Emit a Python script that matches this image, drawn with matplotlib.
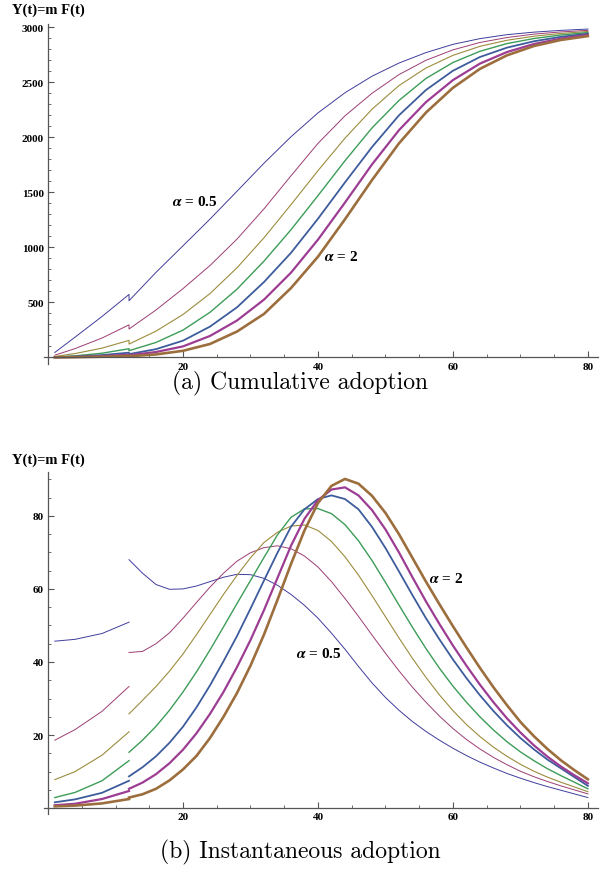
import matplotlib
matplotlib.use("Agg")
import matplotlib.pyplot as plt
from matplotlib.ticker import FixedLocator, MultipleLocator

plt.rcParams['font.family'] = 'Liberation Serif'
plt.rcParams['font.weight'] = 'bold'
plt.rcParams['mathtext.fontset'] = 'stix'

# valores de alpha y estilo de cada curva (colores por defecto de Mathematica)
alphas = ['0.5', '0.75', '1', '1.25', '1.5', '1.75', '2']
colores = ['#403d9c', '#9c3d72', '#9c8c3d', '#3d9c58', '#3d5c9c', '#9c3d93', '#9c6e3d']
grosores = [0.7, 0.7, 0.8, 1.0, 1.3, 1.6, 1.9]

# tiempos
t_pre = [1, 4, 8, 12]
t_cum = [12, 16, 20, 24, 28, 32, 36, 40, 44, 48, 52, 56, 60, 64, 68, 72, 76, 80]
t_ins = [12, 14, 16, 18, 20, 22, 24, 26, 28, 30, 32, 34, 36, 38, 40, 42, 44, 46,
         48, 50, 52, 54, 56, 58, 60, 62, 64, 66, 68, 70, 72, 74, 76, 78, 80]

# (a) adopcion acumulada Y(t) = m F(t)
cum_pre_050 = [45, 184, 372, 572]
cum_pre_075 = [20, 80, 176, 296]
cum_pre_100 = [8, 35, 84, 155]
cum_pre_125 = [3, 14, 38, 79]
cum_pre_150 = [1.5, 7.5, 21, 43]
cum_pre_175 = [0.8, 3.8, 11, 25]
cum_pre_200 = [0.5, 2.3, 6.3, 14]

cum_050 = [515, 773, 1014, 1257, 1510, 1765, 2005, 2222, 2405, 2555, 2675, 2770, 2845, 2897, 2933, 2956, 2972, 2984]
cum_075 = [258, 431, 625, 835, 1075, 1350, 1650, 1945, 2195, 2400, 2570, 2700, 2795, 2862, 2907, 2938, 2958, 2972]
cum_100 = [121, 239, 390, 580, 814, 1087, 1388, 1697, 1992, 2255, 2470, 2630, 2745, 2827, 2882, 2919, 2944, 2962]
cum_125 = [61, 136, 248, 410, 620, 875, 1160, 1470, 1787, 2085, 2335, 2535, 2680, 2782, 2852, 2898, 2930, 2952]
cum_150 = [30, 75, 152, 280, 455, 685, 950, 1260, 1590, 1911, 2200, 2430, 2605, 2730, 2815, 2873, 2913, 2942]
cum_175 = [20, 49, 100, 195, 335, 525, 770, 1070, 1407, 1753, 2065, 2320, 2520, 2670, 2775, 2848, 2897, 2932]
cum_200 = [11, 27, 60, 122, 235, 395, 630, 915, 1255, 1611, 1945, 2225, 2450, 2622, 2745, 2830, 2885, 2920]

# (b) adopcion instantanea
ins_pre_050 = [45.7, 46.2, 47.8, 50.9]
ins_pre_075 = [18.6, 21.5, 26.5, 33.3]
ins_pre_100 = [7.8, 10.0, 14.5, 20.9]
ins_pre_125 = [2.9, 4.3, 7.5, 13.0]
ins_pre_150 = [1.6, 2.4, 4.2, 7.5]
ins_pre_175 = [0.8, 1.2, 2.5, 4.7]
ins_pre_200 = [0.5, 0.7, 1.3, 2.5]

ins_050 = [68.0, 64.3, 61.2, 59.9, 60.0, 60.8, 62.0, 63.2, 64.0, 63.9,
           62.9, 61.0, 58.5, 55.5, 52.0, 47.9, 43.5, 38.8, 34.3, 30.3,
           26.8, 23.7, 21.0, 18.6, 16.4, 14.4, 12.6, 11.0, 9.5, 8.2,
           7.0, 5.9, 4.9, 3.9, 2.9]
ins_075 = [42.6, 42.9, 45.0, 48.0, 52.0, 56.3, 60.5, 64.3, 67.6, 69.9,
           71.3, 71.8, 71.0, 69.0, 66.0, 62.0, 57.4, 52.5, 47.4, 42.4,
           37.6, 33.1, 29.0, 25.2, 21.8, 18.8, 16.2, 13.9, 11.9, 10.1,
           8.6, 7.3, 6.1, 5.0, 3.9]
ins_100 = [25.8, 29.5, 33.3, 37.5, 42.2, 47.5, 53.0, 58.5, 63.7, 68.5,
           72.7, 75.5, 77.2, 77.5, 76.0, 73.0, 68.8, 63.8, 58.2, 52.4,
           46.6, 41.0, 35.8, 31.0, 26.7, 22.9, 19.6, 16.7, 14.2, 12.0,
           10.1, 8.5, 7.1, 5.8, 4.5]
ins_125 = [15.3, 18.6, 22.4, 26.8, 31.8, 37.3, 43.3, 49.6, 56.0, 62.3,
           68.6, 74.8, 79.6, 81.9, 82.0, 80.6, 77.6, 73.2, 67.8, 61.8,
           55.6, 49.5, 43.7, 38.3, 33.4, 29.0, 25.0, 21.4, 18.2, 15.4,
           13.0, 10.8, 8.9, 7.1, 5.3]
ins_150 = [8.7, 11.2, 14.2, 17.9, 22.3, 27.6, 33.6, 40.2, 47.1, 54.6,
           62.3, 69.9, 77.0, 81.8, 84.6, 85.6, 84.6, 81.8, 77.0, 71.2,
           64.8, 58.3, 52.0, 46.2, 40.7, 35.6, 30.9, 26.6, 22.7, 19.2,
           16.1, 13.3, 10.9, 8.5, 6.1]
ins_175 = [5.3, 7.0, 9.3, 12.3, 16.0, 20.5, 25.8, 31.8, 38.6, 46.0,
           54.2, 63.0, 71.8, 79.2, 84.3, 87.2, 87.8, 85.6, 81.6, 76.3,
           70.0, 63.2, 56.6, 50.4, 44.5, 39.0, 33.8, 29.0, 24.6, 20.7,
           17.2, 14.1, 11.4, 9.0, 6.8]
ins_200 = [2.9, 3.8, 5.3, 7.6, 10.6, 14.3, 19.2, 25.0, 31.5, 39.0,
           47.5, 57.0, 66.8, 76.0, 83.5, 88.2, 90.1, 88.8, 85.5, 80.8,
           75.0, 68.5, 62.0, 55.8, 49.8, 44.0, 38.4, 33.1, 28.2, 23.6,
           19.7, 16.2, 13.1, 10.4, 7.9]

cum_pre = [cum_pre_050, cum_pre_075, cum_pre_100, cum_pre_125, cum_pre_150, cum_pre_175, cum_pre_200]
cum_post = [cum_050, cum_075, cum_100, cum_125, cum_150, cum_175, cum_200]
ins_pre = [ins_pre_050, ins_pre_075, ins_pre_100, ins_pre_125, ins_pre_150, ins_pre_175, ins_pre_200]
ins_post = [ins_050, ins_075, ins_100, ins_125, ins_150, ins_175, ins_200]

W, H = 607, 870
fig = plt.figure(figsize=(W / 100, H / 100), dpi=100)
ax1 = fig.add_axes([44 / W, 1 - 365 / H, 554 / W, 340 / H])
ax2 = fig.add_axes([44 / W, 1 - 815 / H, 554 / W, 342 / H])


def estilo_ejes(ax, yticks, ymenor):
    # ejes al estilo Mathematica: cruzan en el origen, ticks hacia dentro
    for lado in ['top', 'right']:
        ax.spines[lado].set_visible(False)
    for lado in ['left', 'bottom']:
        ax.spines[lado].set_position(('data', 0))
        ax.spines[lado].set_color('#555555')
        ax.spines[lado].set_linewidth(0.9)
    ax.set_xlim(-0.6, 81.5)
    ax.xaxis.set_major_locator(FixedLocator([20, 40, 60, 80]))
    ax.xaxis.set_minor_locator(MultipleLocator(5))
    ax.yaxis.set_major_locator(FixedLocator(yticks))
    ax.yaxis.set_minor_locator(MultipleLocator(ymenor))
    ax.tick_params(which='both', direction='in', color='#555555', labelsize=8)
    ax.tick_params(which='major', length=4, width=0.8)
    ax.tick_params(which='minor', length=2, width=0.6)
    ax.tick_params(axis='x', pad=3)
    ax.tick_params(axis='y', pad=3)
    ax.patch.set_alpha(0)


# (a) acumulada: la linea se une en t = 12 (salto vertical)
for pre, post, c, lw in zip(cum_pre, cum_post, colores, grosores):
    ax1.plot(t_pre + t_cum, pre + post, color=c, lw=lw)
ax1.set_ylim(-60, 3030)
estilo_ejes(ax1, [500, 1000, 1500, 2000, 2500, 3000], 100)
ax1.text(18.3, 1421, r'$\alpha$ = 0.5', fontsize=11, va='center')
ax1.text(40.9, 921, r'$\alpha$ = 2', fontsize=11, va='center')

# (b) instantanea: dos tramos separados
for pre, post, c, lw in zip(ins_pre, ins_post, colores, grosores):
    ax2.plot(t_pre, pre, color=c, lw=lw)
    ax2.plot(t_ins, post, color=c, lw=lw)
ax2.set_ylim(-1.6, 92)
estilo_ejes(ax2, [20, 40, 60, 80], 5)
ax2.text(56.4, 63, r'$\alpha$ = 2', fontsize=11, va='center')
ax2.text(36.8, 42.5, r'$\alpha$ = 0.5', fontsize=11, va='center')

fig.text(12 / W, 1 - 10 / H, 'Y(t)=m F(t)', fontsize=10.5, va='center')
fig.text(12 / W, 1 - 460 / H, 'Y(t)=m F(t)', fontsize=10.5, va='center')
fig.text(0.494, 1 - 389 / H, '(a) Cumulative adoption', family='cmr10',
         weight='normal', fontsize=17, ha='center', va='baseline')
fig.text(0.494, 1 - 858 / H, '(b) Instantaneous adoption', family='cmr10',
         weight='normal', fontsize=17, ha='center', va='baseline')

fig.savefig('out.png', dpi=100)
